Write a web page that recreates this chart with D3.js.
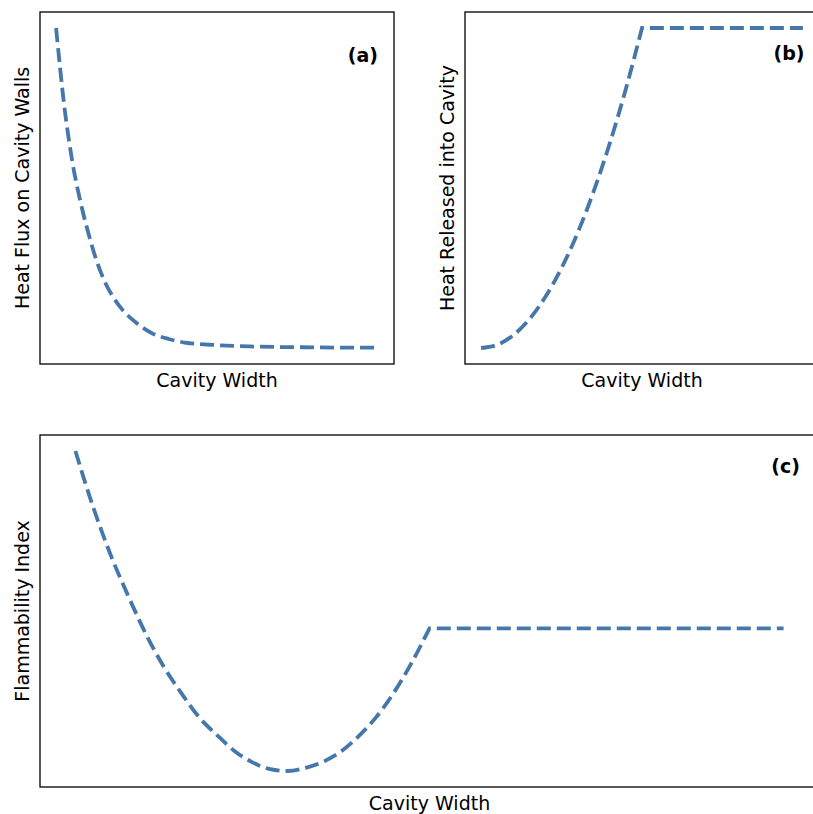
<!DOCTYPE html>
<html>
<head>
<meta charset="utf-8">
<script src="https://cdn.jsdelivr.net/npm/d3@7"></script>
<style>
  html, body { margin: 0; padding: 0; background: #fff; }
  svg { display: block; }
  text { font-family: "DejaVu Sans", sans-serif; fill: #000; }
</style>
</head>
<body>
<svg id="fig" width="813" height="814"></svg>
<script>
// Cavity width samples (arbitrary units) and the three conceptual curves
const widthA = [0, 0.25, 0.5, 0.75, 1, 1.25, 1.5, 1.75, 2, 2.5, 3, 3.5, 4, 5, 6, 7, 8, 9, 10];
const heatFlux = [1.0, 0.76, 0.585, 0.46, 0.36, 0.275, 0.21, 0.163, 0.127, 0.078, 0.045, 0.028, 0.017, 0.009, 0.005, 0.003, 0.002, 0.001, 0.001];

const widthB = [0, 0.5, 1, 1.5, 2, 2.5, 3, 3.5, 4, 4.5, 5];
const heatReleased = [0, 0.01, 0.04, 0.09, 0.16, 0.25, 0.36, 0.49, 0.64, 0.81, 1.0];
const heatReleasedPlateau = 1.0;

const widthC = [0, 0.25, 0.5, 0.75, 1, 1.25, 1.5, 1.75, 2, 2.25, 2.5, 2.75, 3, 3.25, 3.5, 3.75, 4, 4.25, 4.5, 4.75, 5];
const flammability = [1.0, 0.825, 0.674, 0.545, 0.426, 0.325, 0.242, 0.167, 0.112, 0.062, 0.027, 0.006, 0.0, 0.010, 0.029, 0.061, 0.109, 0.169, 0.246, 0.339, 0.446];
const flammabilityPlateau = 0.446;

const xMax = 10;

const panels = [
  { left: 40, top: 12, width: 354, height: 352, xs: widthA, ys: heatFlux, plateau: null,
    ylabel: "Heat Flux on Cavity Walls", tag: "(a)", tagX: 378, tagY: 62 },
  { left: 465, top: 12, width: 354, height: 352, xs: widthB, ys: heatReleased, plateau: heatReleasedPlateau,
    ylabel: "Heat Released into Cavity", tag: "(b)", tagX: 804.5, tagY: 60 },
  { left: 40, top: 435, width: 779, height: 352, xs: widthC, ys: flammability, plateau: flammabilityPlateau,
    ylabel: "Flammability Index", tag: "(c)", tagX: 800, tagY: 473 }
];

const svg = d3.select("#fig");
const lineColor = "#4677ab";

panels.forEach(p => {
  const x = d3.scaleLinear().domain([-0.5, xMax + 0.5]).range([p.left, p.left + p.width]);
  const y = d3.scaleLinear().domain([-0.05, 1.05]).range([p.top + p.height, p.top]);

  const pts = p.xs.map((v, i) => [v, p.ys[i]]);
  const gen = d3.line().x(d => x(d[0])).y(d => y(d[1])).curve(d3.curveMonotoneX);
  let dPath = gen(pts);
  if (p.plateau !== null) {
    // flat continuation after the transition width, same path so the dashes run on
    dPath += "L" + x(xMax) + "," + y(p.plateau);
  }

  svg.append("path")
    .attr("d", dPath)
    .attr("fill", "none")
    .attr("stroke", lineColor)
    .attr("stroke-width", 3.8)
    .attr("stroke-dasharray", "14,6");

  // frame
  svg.append("rect")
    .attr("x", p.left).attr("y", p.top)
    .attr("width", p.width).attr("height", p.height)
    .attr("fill", "none").attr("stroke", "#000").attr("stroke-width", 1.3);

  // axis labels
  svg.append("text")
    .attr("x", p.left + p.width / 2)
    .attr("y", p.top + p.height + 23)
    .attr("text-anchor", "middle")
    .attr("font-size", 19)
    .text("Cavity Width");

  svg.append("text")
    .attr("transform", `translate(${p.left - 11},${p.top + p.height / 2}) rotate(-90)`)
    .attr("text-anchor", "middle")
    .attr("font-size", 19)
    .text(p.ylabel);

  svg.append("text")
    .attr("x", p.tagX).attr("y", p.tagY)
    .attr("text-anchor", "end")
    .attr("font-size", 19)
    .attr("font-weight", "bold")
    .text(p.tag);
});
</script>
</body>
</html>
